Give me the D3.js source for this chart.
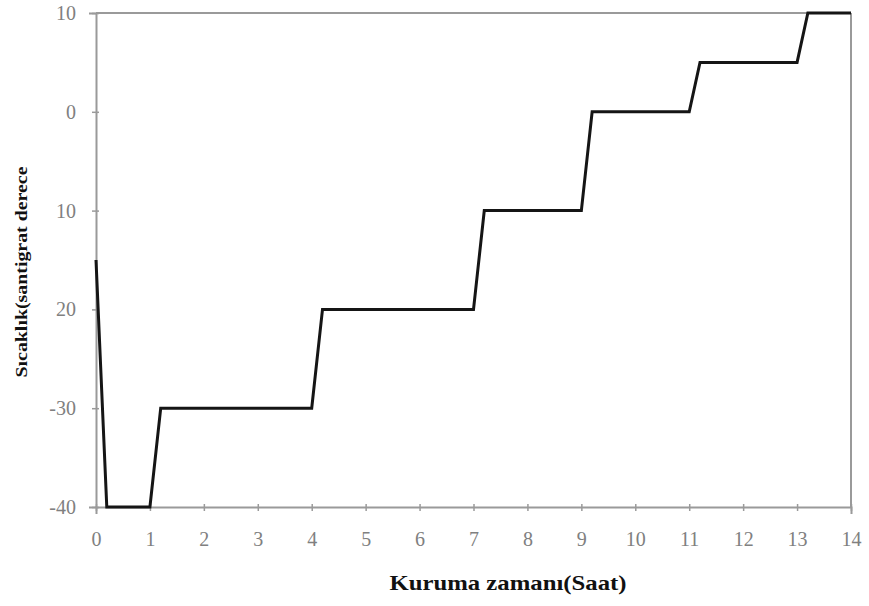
<!DOCTYPE html>
<html>
<head>
<meta charset="utf-8">
<script src="https://cdn.jsdelivr.net/npm/d3@7"></script>
<style>
  body { margin: 0; background: #fff; }
  svg { display: block; }
</style>
</head>
<body>
<script>
// drying time (hours) and temperature readings
const hours = [0, 0.2, 1, 1.2, 4, 4.2, 7, 7.2, 9, 9.2, 11, 11.2, 13, 13.2, 14];
const temps = [-15, -40, -40, -30, -30, -20, -20, -10, -10, 0, 0, 5, 5, 10, 10];

const xTicks = [0, 1, 2, 3, 4, 5, 6, 7, 8, 9, 10, 11, 12, 13, 14];
const yTicks = [-40, -30, -20, -10, 0, 10];
// labels as printed in the figure
const yTickLabels = ['-40', '-30', '20', '10', '0', '10'];

const xTitle = 'Kuruma zamanı(Saat)';
const yTitle = 'Sıcaklık(santigrat derece';

const width = 869, height = 606;
const margin = { top: 13, right: 18, bottom: 99, left: 96 };

const svg = d3.select('body').append('svg')
  .attr('width', width).attr('height', height);

const x = d3.scaleLinear().domain([0, 14]).range([margin.left, width - margin.right]);
const y = d3.scaleLinear().domain([-40, 10]).range([height - margin.bottom, margin.top]);

const gray = '#9a9a9a';

// frame on top and right
svg.append('line')
  .attr('x1', x(0)).attr('x2', x(14)).attr('y1', y(10)).attr('y2', y(10))
  .attr('stroke', gray).attr('stroke-width', 2);
svg.append('line')
  .attr('x1', x(14)).attr('x2', x(14)).attr('y1', y(10)).attr('y2', y(-40))
  .attr('stroke', gray).attr('stroke-width', 2);

const xAxis = svg.append('g')
  .attr('transform', 'translate(0,' + y(-40) + ')')
  .call(d3.axisBottom(x).tickValues(xTicks).tickSize(7).tickPadding(18).tickFormat(d3.format('d')));
xAxis.selectAll('.tick line').attr('transform', 'translate(0,-3)');

const yAxis = svg.append('g')
  .attr('transform', 'translate(' + x(0) + ',0)')
  .call(d3.axisLeft(y).tickValues(yTicks).tickSize(7).tickPadding(13)
    .tickFormat((d, i) => yTickLabels[i]));
yAxis.selectAll('.tick line').attr('transform', 'translate(3,0)');

svg.selectAll('.domain').attr('stroke', gray).attr('stroke-width', 2);
svg.selectAll('.tick line').attr('stroke', gray).attr('stroke-width', 1.5);
svg.selectAll('.tick text')
  .attr('fill', '#808080')
  .style('font-family', '"Liberation Serif", "Times New Roman", serif')
  .style('font-size', '20px');

// the data line
const line = d3.line().x((d, i) => x(hours[i])).y(d => y(d));
svg.append('path')
  .datum(temps)
  .attr('fill', 'none')
  .attr('stroke', '#151515')
  .attr('stroke-width', 3)
  .attr('stroke-linejoin', 'miter')
  .attr('d', line);

// axis titles
svg.append('text')
  .attr('x', 508).attr('y', 590)
  .attr('text-anchor', 'middle')
  .attr('textLength', 237)
  .attr('lengthAdjust', 'spacingAndGlyphs')
  .style('font-family', '"Liberation Serif", "Times New Roman", serif')
  .style('font-weight', 'bold')
  .style('font-size', '21px')
  .attr('fill', '#111')
  .text(xTitle);

svg.append('text')
  .attr('transform', 'translate(27,272) rotate(-90)')
  .attr('text-anchor', 'middle')
  .attr('textLength', 211)
  .attr('lengthAdjust', 'spacingAndGlyphs')
  .style('font-family', '"Liberation Serif", "Times New Roman", serif')
  .style('font-weight', 'bold')
  .style('font-size', '17px')
  .attr('fill', '#111')
  .text(yTitle);
</script>
</body>
</html>
